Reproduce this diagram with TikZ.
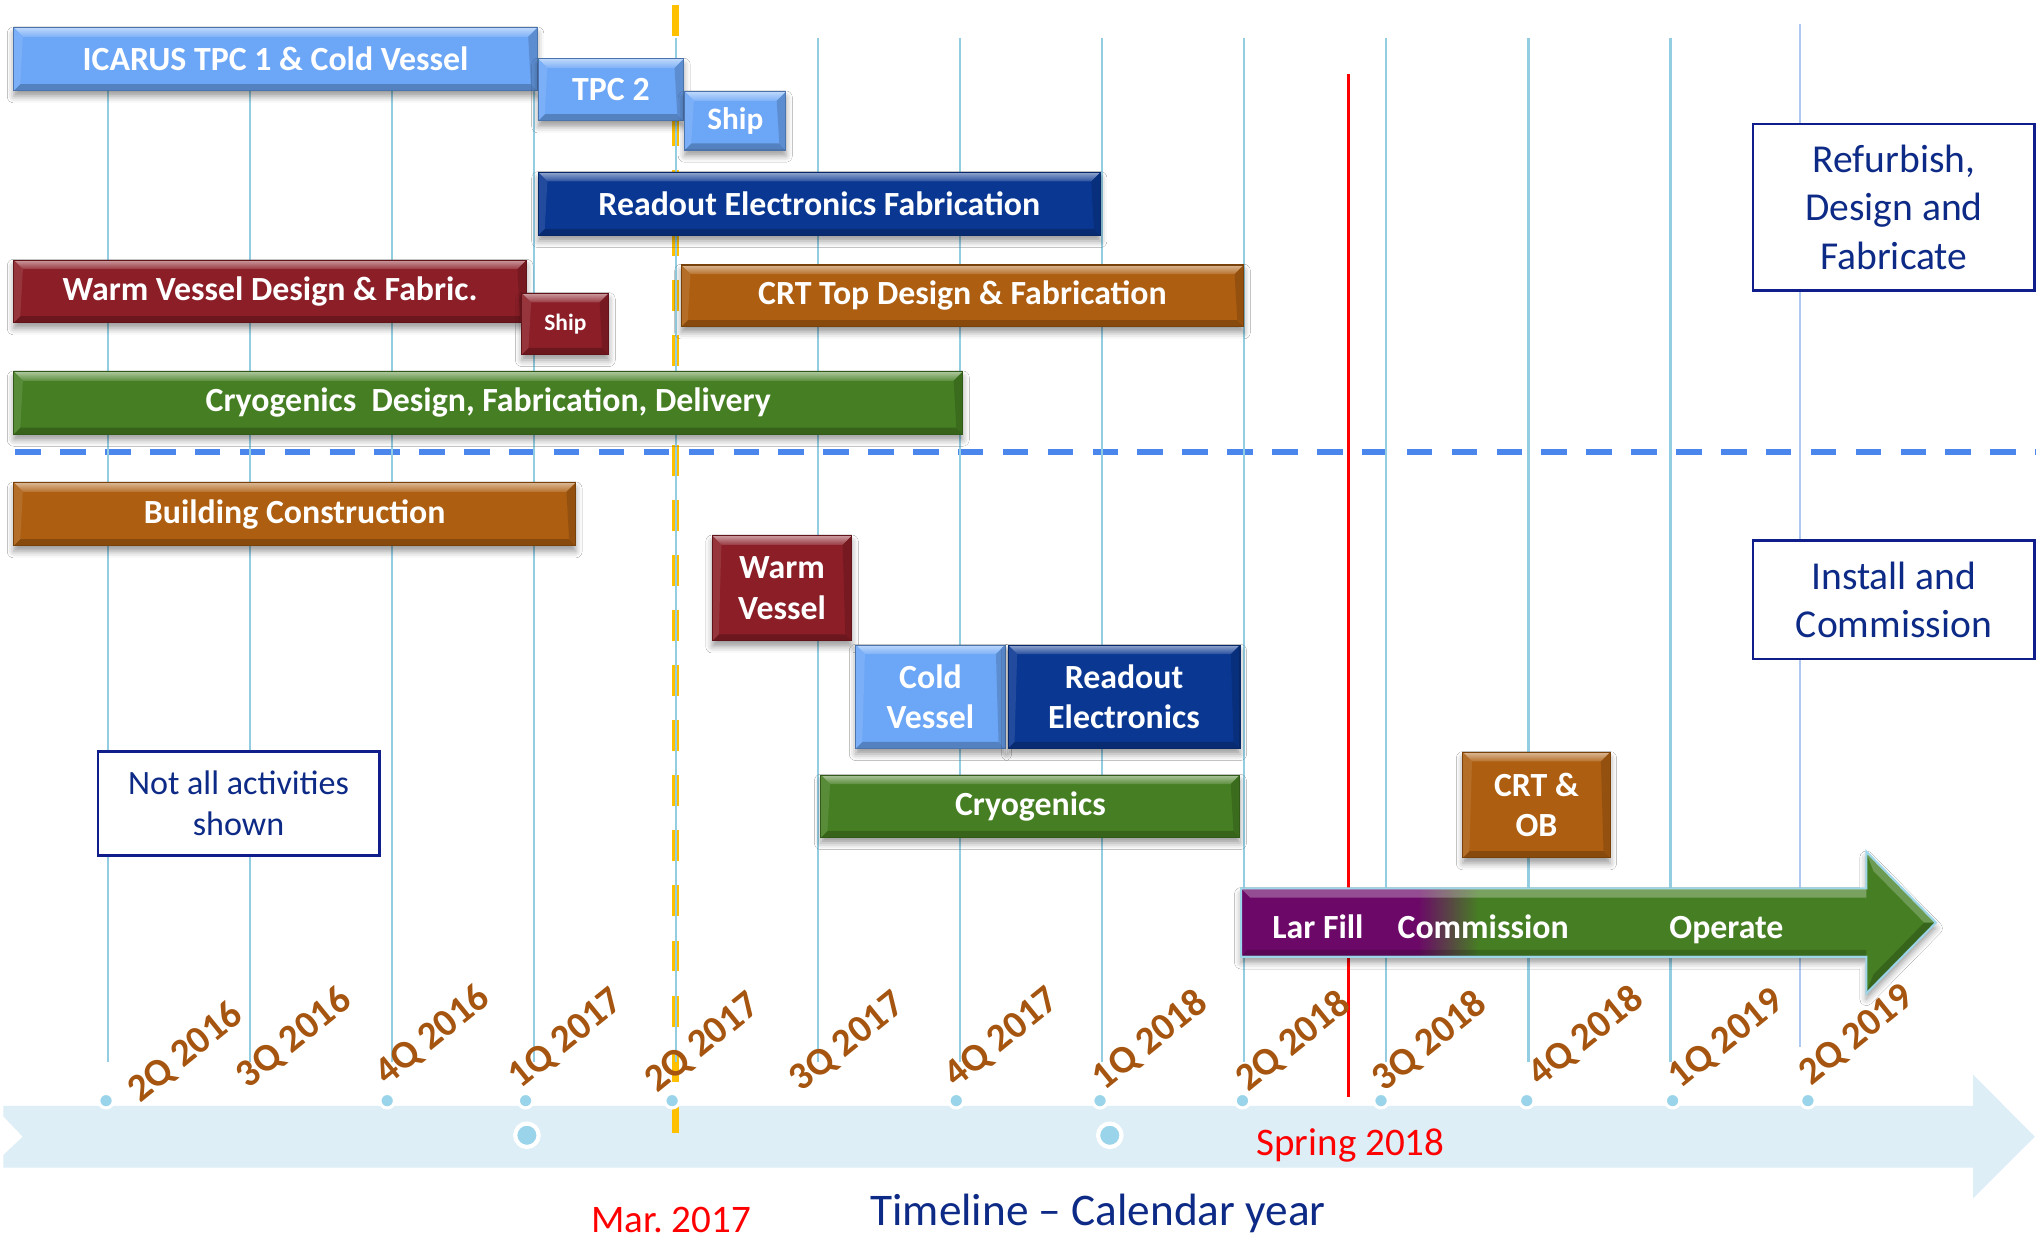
\documentclass[tikz,border=0pt]{standalone}
\usepackage{fontspec}
\setmainfont{Carlito}
\frenchspacing
\usetikzlibrary{calc,shadows.blur}

% palette
\definecolor{cblue}{HTML}{6CA6F6}
\definecolor{cnavy}{HTML}{0A3792}
\definecolor{cred}{HTML}{8B1E27}
\definecolor{corange}{HTML}{AD5E10}
\definecolor{cgreen}{HTML}{467F23}
\definecolor{cpurple}{HTML}{6C0868}
\definecolor{gridc}{HTML}{93CDE2}
\definecolor{gridlast}{HTML}{AFC8F2}
\definecolor{bandc}{HTML}{DDEEF6}
\definecolor{dotc}{HTML}{9AD4EA}
\definecolor{qlabel}{HTML}{A5550F}
\definecolor{navytext}{HTML}{0D2A86}
\definecolor{boxc}{HTML}{101E8C}
\definecolor{dashblue}{HTML}{4A86EC}
\definecolor{marker}{HTML}{FFC000}
\definecolor{arrowedge}{HTML}{9CD6E8}

% purple-to-green fill of the commissioning arrow
\pgfdeclarehorizontalshading{larfill}{100bp}{color(0bp)=(cpurple); color(37.7bp)=(cpurple); color(42.1bp)=(cgreen); color(100bp)=(cgreen)}

\tikzset{
  % a box spanning the corners (x1,y1) and (x2,y2), in picture units
  span/.style n args={4}{at={({(#1+#3)/2},{(#2+#4)/2})}, anchor=center,
    minimum width={(#3-#1)*0.5pt}, minimum height={(#4-#2)*0.5pt}},
  barbox/.style={
    fill=#1, draw=#1!70!black, line width=0.4pt,
    text=white, align=center, inner sep=0pt,
    font=\bfseries\fontsize{13}{15.5}\selectfont,
    blur shadow={shadow xshift=0pt, shadow yshift=-2.2pt, shadow blur radius=2.5pt, shadow opacity=40},
    path picture={
      \path (path picture bounding box.north west) coordinate (bNW)
            (path picture bounding box.north east) coordinate (bNE)
            (path picture bounding box.south west) coordinate (bSW)
            (path picture bounding box.south east) coordinate (bSE);
      \shade[top color=#1!45!white, bottom color=#1!88!white]
        (bNW) -- (bNE) -- ([shift={(-3.5pt,-3.5pt)}]bNE) -- ([shift={(3.5pt,-3.5pt)}]bNW) -- cycle;
      \fill[#1!78!black] (bSW) -- (bSE) -- ([shift={(-2.5pt,2.5pt)}]bSE) -- ([shift={(2.5pt,2.5pt)}]bSW) -- cycle;
      \fill[#1!90!white] (bNW) -- ([shift={(3.5pt,-3.5pt)}]bNW) -- ([shift={(2.5pt,2.5pt)}]bSW) -- (bSW) -- cycle;
      \fill[#1!85!black] (bNE) -- ([shift={(-3.5pt,-3.5pt)}]bNE) -- ([shift={(-2.5pt,2.5pt)}]bSE) -- (bSE) -- cycle;
    }
  },
  notebox/.style={draw=boxc, line width=1.1pt, fill=white, text=navytext,
    align=center, inner sep=0pt, font=\fontsize{15.2}{18.5}\selectfont},
  gridline/.style={gridc, line width=0.8pt},
  qdot/.style={circle, fill=dotc, draw=white, line width=1.2pt, minimum size=5.6pt, inner sep=0pt},
  bigdot/.style={circle, fill=dotc, draw=white, line width=1.6pt, minimum size=9pt, inner sep=0pt},
  qtext/.style={text=qlabel, font=\bfseries\fontsize{15}{18}\selectfont, rotate=39, anchor=base west, inner sep=0pt},
  arrowtext/.style={text=white, font=\bfseries\fontsize{13}{15.5}\selectfont, inner sep=0pt, anchor=base},
  redtext/.style={text=red, font=\fontsize{15}{18}\selectfont, inner sep=0pt, anchor=base},
}

\begin{document}
\begin{tikzpicture}[x=0.5pt, y=-0.5pt]
\fill[white] (0,0) rectangle (1568,952);
\useasboundingbox (0,0) rectangle (1568,952);

% timeline band with notched tail and arrow head
\fill[bandc] (2.5,850) -- (1516.5,850) -- (1516.5,826) -- (1564,873.7) -- (1516.5,921)
  -- (1516.5,897.5) -- (2.5,897.5) -- (2.5,887.8) -- (17.5,873.7) -- (2.5,858) -- cycle;

% separator between the two phases
\draw[dashblue, line width=2.3pt, dash pattern=on 9.8pt off 7.45pt] (11.8,347.7) -- (1565,347.7);

% Mar. 2017 marker
\draw[marker, line width=2.75pt, dash pattern=on 11.9pt off 9.25pt] (519.2,3.8) -- (519.2,871);

% quarter grid lines
\foreach \i in {0,...,11}{
  \draw[gridline] ({82.8+109.2*\i},29) -- ({82.8+109.2*\i},816);
}
\draw[gridlast, line width=0.8pt] (1383.4,18.5) -- (1383.4,805);

% Spring 2018 marker
\draw[red, line width=0.9pt] (1036.4,57) -- (1036.4,843);

% quarter ticks on the band
\foreach \x [count=\k] in {81.5,297.6,404,516.6,735,845.5,955,1061.5,1173.5,1285.6,1389.6}{
  \node[qdot] (tick\k) at (\x,846) {};
}
\node[bigdot] (now1) at (405,872.6) {};
\node[bigdot] (now2) at (853,872.6) {};

% refurbish, design and fabricate
\node[barbox=cblue, span={10.6}{21.3}{413}{69.7}] (icarus) {ICARUS TPC 1 \& Cold Vessel};
\node[barbox=cblue, span={413.7}{45.3}{525.5}{92.8}] (tpc2) {TPC 2};
\node[barbox=cblue, span={526.3}{70.5}{604}{115.3}, font=\bfseries\fontsize{12}{14}\selectfont] (shipA) {Ship};
\node[barbox=cnavy, span={413.7}{132.5}{845.8}{180.9}] (rofab) {Readout Electronics Fabrication};
\node[barbox=cred, span={10.6}{199.9}{404.7}{248}] (wvdesign) {Warm Vessel Design \& Fabric.};
\node[barbox=cred, span={401.2}{225.5}{467.9}{272.4}, font=\bfseries\fontsize{9}{11}\selectfont] (shipB) {Ship};
\node[barbox=corange, span={523.6}{203.7}{956}{251.1}] (crttop) {CRT Top Design \& Fabrication};
\node[barbox=cgreen, span={10.6}{285.7}{740}{333.6}] (cryodes) {Cryogenics~ Design, Fabrication, Delivery};

% install and commission
\node[barbox=corange, span={10.6}{371}{442.4}{419.4}] (building) {Building Construction};
\node[barbox=cred, span={547.5}{411.8}{654.7}{492.5}] (warmv) {Warm\\Vessel};
\node[barbox=cblue, span={657.8}{495.8}{772.5}{575.2}] (coldv) {Cold\\Vessel};
\node[barbox=cnavy, span={774.8}{495.8}{953.1}{575.2}] (roel) {Readout\\Electronics};
\node[barbox=cgreen, span={631}{595.7}{953}{643.6}] (cryo) {Cryogenics};
\node[barbox=corange, span={1124.4}{578.3}{1237.5}{659.2}] (crtob) {CRT \&\\OB};

% LAr fill, commissioning and operation arrow
\shadedraw[shading=larfill, draw=arrowedge, line width=0.8pt,
  blur shadow={shadow xshift=0pt, shadow yshift=-2.2pt, shadow blur radius=2.5pt, shadow opacity=40}]
  (953.9,682.8) -- (1434.5,682.8) -- (1434.5,654.6) -- (1487.9,709.1) -- (1434.5,763.5)
  -- (1434.5,735.4) -- (953.9,735.4) -- cycle;
\fill[white, opacity=0.28] (954.5,683.4) -- (1434.5,683.4) -- (1434.5,690) -- (961,690) -- cycle;
\fill[black, opacity=0.18] (954.5,734.8) -- (1434.5,734.8) -- (1434.5,730) -- (959,730) -- cycle;
\fill[white, opacity=0.22] (1434.5,655.5) -- (1487,709.1) -- (1479,709.1) -- (1440,669.5) -- cycle;
\fill[black, opacity=0.2] (1487,709.1) -- (1434.5,762.6) -- (1440,749) -- (1479,709.1) -- cycle;
\node[arrowtext] (larfill) at (1013,721.5) {Lar Fill};
\node[arrowtext] (commission) at (1140,721.5) {Commission};
\node[arrowtext] (operate) at (1327,721.5) {Operate};

% phase captions and note
\node[notebox, span={1347.4}{95.3}{1564}{223.4}] (refurb) {Refurbish,\\Design and\\Fabricate};
\node[notebox, span={1347.4}{415.6}{1564}{506.5}] (install) {Install and\\Commission};
\node[notebox, span={75.3}{577.3}{291.4}{657.7}, font=\fontsize{13.1}{16}\selectfont] (notall) {Not all activities\\shown};

% quarter labels
\foreach \x/\y/\t [count=\k] in {107.5/848.6/2Q 2016, 191/837.3/3Q 2016, 297.5/835.3/4Q 2016,
    400/837.8/1Q 2017, 505/841/2Q 2017, 616/840.3/3Q 2017, 735/837/4Q 2017,
    849/839/1Q 2018, 959/840/2Q 2018, 1064/840/3Q 2018, 1184/836/4Q 2018,
    1291.6/838/1Q 2019, 1391.7/835/2Q 2019}{
  \node[qtext] (q\k) at (\x,\y) {\t};
}

% dates and axis title
\node[redtext] (mar) at (516,947) {Mar. 2017};
\node[redtext] (spring) at (1038,887.8) {Spring 2018};
\node[text=navytext, font=\fontsize{17.4}{21}\selectfont, inner sep=0pt, anchor=base] (axis) at (844,941.6) {Timeline – Calendar year};
\end{tikzpicture}
\end{document}
